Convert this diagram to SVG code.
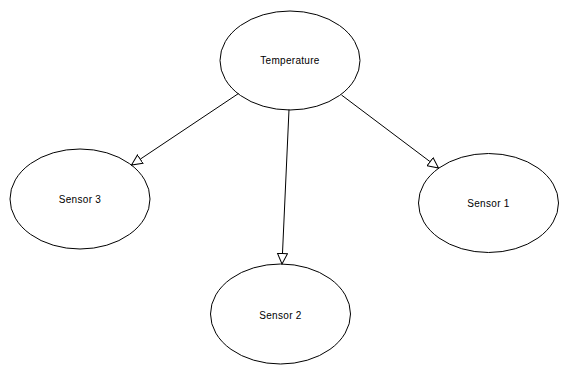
<svg xmlns="http://www.w3.org/2000/svg" width="569" height="375" viewBox="0 0 569 375">
  <style>
    .node ellipse { fill: #ffffff; stroke: #000000; stroke-width: 1; }
    .node text { font-family: "Liberation Sans", Arial, sans-serif; font-size: 10px; letter-spacing: 0.3px; fill: #000000; text-anchor: middle; }
    .edge { stroke: #000000; stroke-width: 1; fill: none; marker-end: url(#open-arrow); }
  </style>
  <defs>
    <marker id="open-arrow" viewBox="0 0 12 12" refX="11" refY="6" markerWidth="12" markerHeight="12" markerUnits="userSpaceOnUse" orient="auto">
      <path d="M0.5,1 L11,6 L0.5,11 Z" fill="#ffffff" stroke="#000000" stroke-width="1"/>
    </marker>
  </defs>
  <rect width="569" height="375" fill="#ffffff"/>

  <g id="nodes">
    <g id="temperature" class="node">
      <ellipse cx="290" cy="60.5" rx="70" ry="49.5"/>
      <text x="290" y="64">Temperature</text>
    </g>
    <g id="sensor3" class="node">
      <ellipse cx="80" cy="199" rx="70" ry="50"/>
      <text x="80" y="203">Sensor 3</text>
    </g>
    <g id="sensor1" class="node">
      <ellipse cx="488.5" cy="203" rx="70" ry="49.5"/>
      <text x="488.5" y="207">Sensor 1</text>
    </g>
    <g id="sensor2" class="node">
      <ellipse cx="280.5" cy="314" rx="70" ry="50"/>
      <text x="280.5" y="318.5">Sensor 2</text>
    </g>
  </g>

  <g id="connectors">
    <line class="edge" x1="238.5" y1="93.5" x2="131.5" y2="165"/>
    <line class="edge" x1="289" y1="109.5" x2="282" y2="264"/>
    <line class="edge" x1="341.5" y1="95" x2="438.5" y2="168"/>
  </g>
</svg>
